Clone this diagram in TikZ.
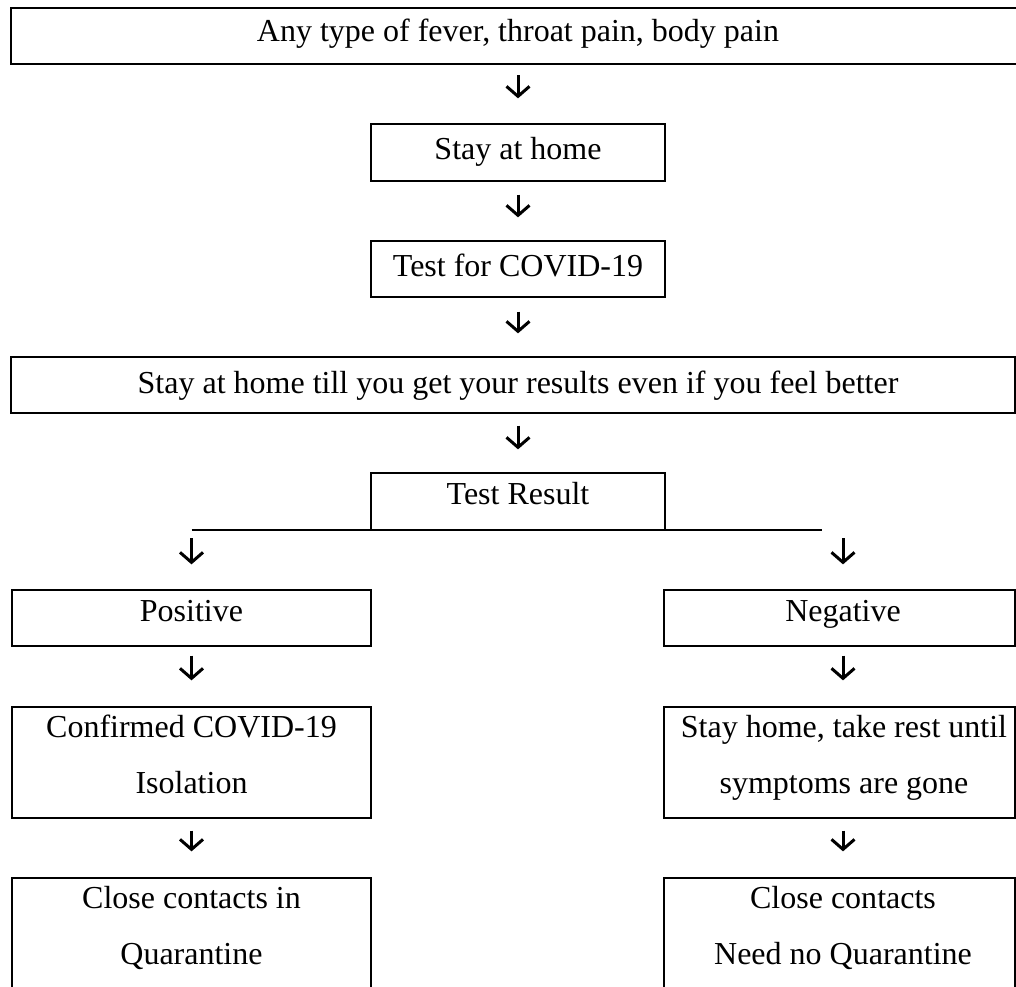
\documentclass[tikz,border=0pt]{standalone}
\usepackage{fontspec}
\setmainfont{Liberation Serif}
\usetikzlibrary{arrows.meta}
\begin{document}
\begin{tikzpicture}[x=1pt,y=-1pt,
  box/.style={draw, line width=1.3pt, inner sep=0pt},
  txt/.style={inner sep=0pt, anchor=base, font=\fontsize{32}{40}\selectfont},
  arr/.style={line width=3pt, -{Straight Barb[length=10pt,width=23pt]}}]
\useasboundingbox (0,0) rectangle (1016,986);
\clip (0,0) rectangle (1016,986);
% boxes
\node[box, line width=2pt, minimum width=1014pt, minimum height=56pt] (top) at (518,36) {};
\node[txt] (topt) at (518,41) {Any type of fever, throat pain, body pain};
\node[box, minimum width=294pt, minimum height=57pt] (stay) at (518,152.5) {};
\node[txt] (stayt) at (518,159) {Stay at home};
\node[box, minimum width=294pt, minimum height=56pt] (test) at (518,269) {};
\node[txt] (testt) at (518,276) {Test for COVID-19};
\node[box, minimum width=1004pt, minimum height=56pt] (wide) at (513,385) {};
\node[txt] (widet) at (518,393) {Stay at home till you get your results even if you feel better};
\node[box, minimum width=294pt, minimum height=57pt] (tr) at (518,501.5) {};
\node[txt] (trt) at (518,504) {Test Result};
\coordinate (brL) at (191.5,530);
\coordinate (brR) at (843,530);
\coordinate (brE) at (822,530);
\draw[line width=1.3pt] (brL) -- (brE);
\node[box, minimum width=359pt, minimum height=56pt] (pos) at (191.5,618) {};
\node[txt] (post) at (191.5,621) {Positive};
\node[box, minimum width=351pt, minimum height=56pt] (neg) at (839.5,618) {};
\node[txt] (negt) at (843,621) {Negative};
\node[box, minimum width=359pt, minimum height=111pt] (conf) at (191.5,762.5) {};
\node[txt] (conft1) at (191.5,737) {Confirmed COVID-19};
\node[txt] (conft2) at (191.5,793) {Isolation};
\node[box, minimum width=351pt, minimum height=111pt] (sh) at (839.5,762.5) {};
\node[txt] (sht1) at (844,737) {Stay home, take rest until};
\node[txt] (sht2) at (844,793) {symptoms are gone};
\node[box, minimum width=359pt, minimum height=122pt] (ccl) at (191.5,939) {};
\node[txt] (cclt1) at (191.5,908) {Close contacts in};
\node[txt] (cclt2) at (191.5,964) {Quarantine};
\node[box, minimum width=351pt, minimum height=122pt] (ccr) at (839.5,939) {};
\node[txt] (ccrt1) at (843,908) {Close contacts};
\node[txt] (ccrt2) at (843,964) {Need no Quarantine};
% arrows
\draw[arr, shorten <=10pt, shorten >=25pt] (top.south) -- (stay.north);
\draw[arr, shorten <=13pt, shorten >=23pt] (stay.south) -- (test.north);
\draw[arr, shorten <=14pt, shorten >=23pt] (test.south) -- (test.south |- wide.north);
\draw[arr, shorten <=12pt, shorten >=23pt] (wide.south -| tr.north) -- (tr.north);
\draw[arr, shorten <=8pt, shorten >=25pt] (brL) -- (brL |- pos.north);
\draw[arr, shorten <=8pt, shorten >=25pt] (brR) -- (brR |- neg.north);
\draw[arr, shorten <=9pt, shorten >=26pt] (pos.south) -- (conf.north);
\draw[arr, shorten <=9pt, shorten >=26pt] (neg.south -| brR) -- (brR |- sh.north);
\draw[arr, shorten <=12pt, shorten >=26pt] (conf.south) -- (ccl.north);
\draw[arr, shorten <=12pt, shorten >=26pt] (sh.south -| brR) -- (brR |- ccr.north);
\end{tikzpicture}
\end{document}
